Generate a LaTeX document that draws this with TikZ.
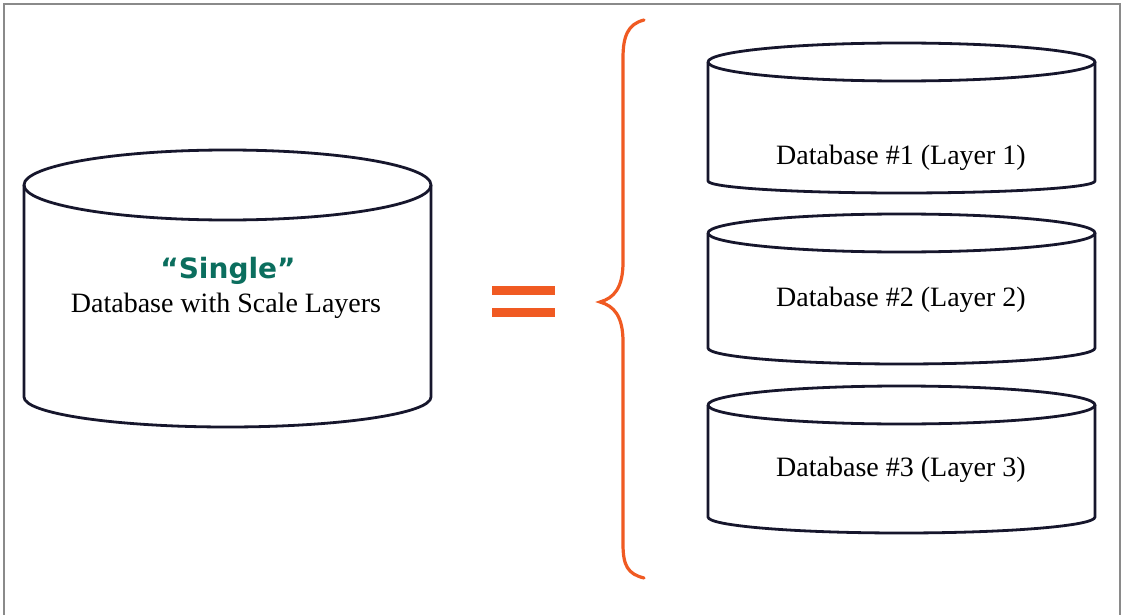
\documentclass[tikz,border=0pt]{standalone}
\usepackage{fontspec}
\setmainfont{Liberation Serif}
\newfontfamily\labelsans{DejaVu Sans}
\definecolor{dbline}{HTML}{16162C}
\definecolor{bracecol}{HTML}{F05A22}
\definecolor{singlegreen}{HTML}{0B6E5E}
\definecolor{framegray}{HTML}{8A8A8A}
\newcommand\dbcyl[6]{% L R yTop rTop yBot rBot
  \pgfmathsetmacro\cxx{(#1+#2)/2}\pgfmathsetmacro\axx{(#2-#1)/2}
  \fill[white] (#1,#3) -- (#1,#5) .. controls (#1,{#5+0.5523*#6}) and ({\cxx-0.5523*\axx},{#5+#6}) .. (\cxx,{#5+#6})
     .. controls ({\cxx+0.5523*\axx},{#5+#6}) and (#2,{#5+0.5523*#6}) .. (#2,#5) -- (#2,#3) -- cycle;
  \draw[dbstroke] (\cxx,#3) ellipse [x radius=\axx, y radius=#4];
  \draw[dbstroke] (#1,#3) -- (#1,#5) .. controls (#1,{#5+0.5523*#6}) and ({\cxx-0.5523*\axx},{#5+#6}) .. (\cxx,{#5+#6})
     .. controls ({\cxx+0.5523*\axx},{#5+#6}) and (#2,{#5+0.5523*#6}) .. (#2,#5) -- (#2,#3);
}
\begin{document}
\begin{tikzpicture}[x=1pt,y=-1pt,
  dbstroke/.style={draw=dbline, line width=2.8pt, line join=round},
  dbtext/.style={font=\fontsize{28}{32}\selectfont, text=black, inner sep=0pt},
  eqbar/.style={fill=bracecol, draw=none}]
\useasboundingbox (0,0) rectangle (1124,615);
\fill[white] (0,0) rectangle (1124,615);
\draw[framegray, line width=1.6pt] (4,615) -- (4,4) -- (1120,4) -- (1120,615);

% big cylinder
\dbcyl{24}{431}{185}{35}{397}{30}
\node[font=\labelsans\bfseries\fontsize{28}{30}\selectfont, text=singlegreen, inner sep=0pt] (single) at (228,271) {“Single”};
\node[dbtext] (bigtext) at (226,306) {Database with Scale Layers};

% equals sign
\path[eqbar] (492,286) rectangle (555,295);
\path[eqbar] (492,308) rectangle (555,317);

% brace
\coordinate (btop) at (644,20);
\coordinate (btip) at (600,302);
\coordinate (bbot) at (644,578);
\draw[bracecol, line width=3.2pt, line cap=round] (btop)
  .. controls (628,24) and (623,36) .. (623,58)
  -- (623,262)
  .. controls (623,288) and (614,298) .. (btip)
  .. controls (614,306) and (623,316) .. (623,342)
  -- (623,544)
  .. controls (623,566) and (628,574) .. (bbot);

% small cylinders
\dbcyl{708}{1095}{62}{19}{181}{12}
\dbcyl{708}{1095}{233}{19}{348}{16}
\dbcyl{708}{1095}{405}{19}{517}{16}
\node[dbtext] (db1) at (901,158) {Database \#1 (Layer 1)};
\node[dbtext] (db2) at (901,300) {Database \#2 (Layer 2)};
\node[dbtext] (db3) at (901,470) {Database \#3 (Layer 3)};
\end{tikzpicture}
\end{document}
